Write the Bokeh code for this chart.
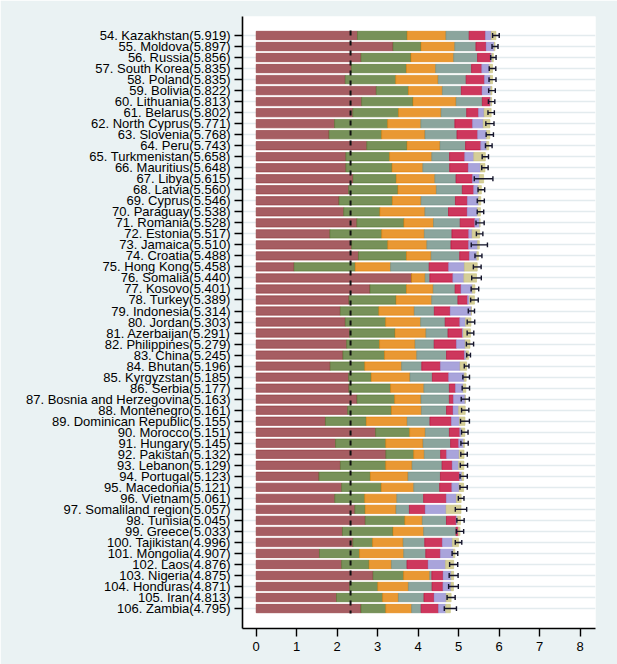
from bokeh.plotting import figure
from bokeh.models import Range1d, FixedTicker, ColumnDataSource
from bokeh.embed import file_html
from bokeh.resources import INLINE

ranks = list(range(54, 107))
countries = ["Kazakhstan", "Moldova", "Russia", "South Korea", "Poland", "Bolivia", "Lithuania",
             "Belarus", "North Cyprus", "Slovenia", "Peru", "Turkmenistan", "Mauritius", "Libya",
             "Latvia", "Cyprus", "Paraguay", "Romania", "Estonia", "Jamaica", "Croatia", "Hong Kong",
             "Somalia", "Kosovo", "Turkey", "Indonesia", "Jordan", "Azerbaijan", "Philippines", "China",
             "Bhutan", "Kyrgyzstan", "Serbia", "Bosnia and Herzegovina", "Montenegro",
             "Dominican Republic", "Morocco", "Hungary", "Pakistan", "Lebanon", "Portugal", "Macedonia",
             "Vietnam", "Somaliland region", "Tunisia", "Greece", "Tajikistan", "Mongolia", "Laos",
             "Nigeria", "Honduras", "Iran", "Zambia"]
scores = [5.919, 5.897, 5.856, 5.835, 5.835, 5.822, 5.813, 5.802, 5.771, 5.768, 5.743, 5.658, 5.648,
          5.615, 5.560, 5.546, 5.538, 5.528, 5.517, 5.510, 5.488, 5.458, 5.440, 5.401, 5.389, 5.314,
          5.303, 5.291, 5.279, 5.245, 5.196, 5.185, 5.177, 5.163, 5.161, 5.155, 5.151, 5.145, 5.132,
          5.129, 5.123, 5.121, 5.061, 5.057, 5.045, 5.033, 4.996, 4.907, 4.876, 4.875, 4.871, 4.813,
          4.795]

dystopia_residual = [2.501, 3.380, 2.591, 2.351, 2.200, 2.966, 2.604, 2.385, 1.936, 1.800, 2.731, 2.214,
                     2.214, 2.393, 2.282, 2.045, 2.161, 2.486, 1.820, 2.357, 2.526, 0.937, 3.837, 2.810,
                     2.291, 2.078, 2.201, 2.307, 2.234, 2.142, 1.829, 2.283, 2.290, 2.490, 2.260, 1.710,
                     2.949, 1.960, 3.202, 2.080, 1.550, 2.110, 1.941, 2.437, 2.694, 2.130, 2.387, 1.563,
                     2.110, 2.888, 2.309, 1.983, 2.588]
gdp = [1.229, 0.692, 1.232, 1.359, 1.246, 0.794, 1.269, 1.131, 1.311, 1.298, 0.996, 1.080, 1.144, 1.067,
       1.218, 1.319, 0.894, 1.162, 1.280, 0.893, 1.186, 1.511, 0.000, 0.901, 1.165, 0.951, 0.997, 1.124,
       0.812, 1.028, 0.853, 0.560, 1.030, 0.930, 1.080, 1.010, 0.841, 1.240, 0.688, 1.120, 1.270, 0.980,
       0.740, 0.256, 0.977, 1.249, 0.488, 0.989, 0.680, 0.752, 0.694, 1.140, 0.612]
social_support = [0.955, 0.831, 1.053, 0.722, 1.047, 0.838, 1.064, 1.050, 0.818, 1.070, 0.813, 1.041,
                  0.757, 0.951, 0.950, 0.707, 1.111, 0.730, 1.052, 0.964, 0.608, 0.870, 0.336, 0.661,
                  0.877, 0.876, 0.862, 0.760, 0.879, 0.794, 0.908, 0.954, 0.820, 0.650, 0.740, 1.010,
                  0.386, 0.920, 0.261, 0.650, 0.930, 0.800, 0.791, 0.759, 0.432, 0.755, 0.756, 1.090,
                  0.550, 0.645, 0.756, 0.390, 0.638]
healthy_life = [0.574, 0.523, 0.590, 0.886, 0.691, 0.469, 0.647, 0.631, 0.841, 0.790, 0.630, 0.440, 0.662,
                0.523, 0.640, 0.849, 0.583, 0.660, 0.681, 0.595, 0.705, 0.953, 0.115, 0.540, 0.647,
                0.494, 0.607, 0.545, 0.470, 0.736, 0.498, 0.554, 0.630, 0.700, 0.620, 0.560, 0.595,
                0.680, 0.403, 0.740, 0.800, 0.640, 0.662, 0.331, 0.596, 0.800, 0.531, 0.545, 0.383,
                0.051, 0.584, 0.630, 0.236]
freedom = [0.401, 0.252, 0.327, 0.252, 0.452, 0.510, 0.189, 0.291, 0.436, 0.510, 0.375, 0.374, 0.461,
           0.407, 0.280, 0.295, 0.462, 0.360, 0.415, 0.436, 0.239, 0.481, 0.568, 0.144, 0.239, 0.392,
           0.360, 0.353, 0.549, 0.440, 0.461, 0.402, 0.150, 0.100, 0.160, 0.530, 0.256, 0.200, 0.146,
           0.250, 0.470, 0.300, 0.560, 0.391, 0.236, 0.058, 0.434, 0.360, 0.522, 0.279, 0.268, 0.250,
           0.427]
generosity = [0.148, 0.200, 0.027, 0.188, 0.144, 0.217, 0.020, 0.139, 0.263, 0.220, 0.145, 0.224, 0.300,
              0.171, 0.109, 0.279, 0.253, 0.120, 0.084, 0.222, 0.184, 0.390, 0.272, 0.280, 0.047, 0.520,
              0.143, 0.023, 0.217, 0.040, 0.485, 0.384, 0.190, 0.290, 0.140, 0.200, 0.040, 0.120, 0.312,
              0.160, 0.060, 0.180, 0.251, 0.515, 0.030, 0.000, 0.250, 0.320, 0.431, 0.200, 0.200, 0.300,
              0.179]
corruption = [0.111, 0.019, 0.036, 0.077, 0.055, 0.028, 0.020, 0.175, 0.166, 0.080, 0.053, 0.285, 0.110,
              0.103, 0.081, 0.052, 0.074, 0.010, 0.185, 0.043, 0.040, 0.316, 0.312, 0.065, 0.123, 0.003,
              0.133, 0.179, 0.118, 0.065, 0.162, 0.048, 0.067, 0.003, 0.161, 0.135, 0.084, 0.025, 0.120,
              0.129, 0.043, 0.111, 0.116, 0.368, 0.080, 0.041, 0.150, 0.040, 0.200, 0.060, 0.060, 0.120,
              0.115]
ci_lower = [5.837, 5.823, 5.789, 5.754, 5.749, 5.740, 5.734, 5.723, 5.670, 5.678, 5.661, 5.580, 5.569,
            5.385, 5.478, 5.459, 5.458, 5.427, 5.437, 5.310, 5.402, 5.362, 5.321, 5.308, 5.295, 5.237,
            5.210, 5.209, 5.190, 5.199, 5.138, 5.103, 5.086, 5.063, 5.071, 5.045, 5.071, 5.055, 5.052,
            5.039, 5.033, 5.031, 4.991, 4.917, 4.955, 4.943, 4.916, 4.837, 4.776, 4.765, 4.751, 4.713,
            4.645]
ci_upper = [6.001, 5.971, 5.923, 5.916, 5.921, 5.904, 5.892, 5.881, 5.872, 5.858, 5.825, 5.736, 5.727,
            5.845, 5.642, 5.633, 5.618, 5.629, 5.597, 5.710, 5.574, 5.554, 5.559, 5.494, 5.483, 5.391,
            5.396, 5.373, 5.368, 5.291, 5.254, 5.267, 5.268, 5.263, 5.251, 5.265, 5.231, 5.235, 5.212,
            5.219, 5.213, 5.211, 5.131, 5.197, 5.135, 5.123, 5.076, 4.977, 4.976, 4.985, 4.991, 4.913,
            4.945]
dystopia = 2.33

tick_labels = [f"{r}. {c}({s:.3f})" for r, c, s in zip(ranks, countries, scores)]
rows = list(range(len(countries)))

stackers = ["dyst", "gdp", "social", "health", "freedom", "gen", "corr"]
fills = ["#a65d62", "#779159", "#e99833", "#8ba59d", "#cd375d", "#a9a4db", "#d5ce98"]
lines = ["#90353b", "#55752f", "#e37e00", "#6e8e84", "#c10534", "#938dd2", "#cac27e"]

source = ColumnDataSource(dict(y=rows, dyst=dystopia_residual, gdp=gdp, social=social_support,
                               health=healthy_life, freedom=freedom, gen=generosity, corr=corruption))

p = figure(width=617, height=664, output_backend="svg", toolbar_location=None,
           x_range=Range1d(-0.338, 8.378), y_range=Range1d(53.81, -1.724),
           min_border_left=242, min_border_right=22, min_border_top=16, min_border_bottom=36)
p.background_fill_color = "white"
p.border_fill_color = "#eaf2f3"
p.outline_line_color = None

p.hbar_stack(stackers, y="y", height=0.76, source=source,
             fill_color=fills, line_color=lines, line_width=0.6)

# dystopia reference line
p.segment(x0=[dystopia], x1=[dystopia], y0=[-0.45], y1=[rows[-1] + 0.45],
          line_color="#111111", line_width=2, line_dash="5 5")

# confidence intervals
cap = 0.22
p.segment(x0=ci_lower, x1=ci_upper, y0=rows, y1=rows, line_color="#14142a", line_width=1.4)
p.segment(x0=ci_lower, x1=ci_lower, y0=[r - cap for r in rows], y1=[r + cap for r in rows],
          line_color="#14142a", line_width=1.4)
p.segment(x0=ci_upper, x1=ci_upper, y0=[r - cap for r in rows], y1=[r + cap for r in rows],
          line_color="#14142a", line_width=1.4)

p.xgrid.visible = False
p.ygrid.grid_line_color = "#e3ebee"
p.ygrid.grid_line_width = 1.5
p.ygrid.level = "underlay"

p.xaxis.ticker = FixedTicker(ticks=list(range(0, 9)))
p.yaxis.ticker = FixedTicker(ticks=rows)
p.yaxis.major_label_overrides = {i: lab for i, lab in enumerate(tick_labels)}

for ax in (p.xaxis[0], p.yaxis[0]):
    ax.axis_line_color = "black"
    ax.axis_line_width = 1.6
    ax.major_tick_line_color = "black"
    ax.major_tick_line_width = 1.4
    ax.major_tick_out = 8
    ax.major_tick_in = 0
    ax.minor_tick_line_color = None
    ax.major_label_text_font = "Liberation Sans"
    ax.major_label_text_font_size = "13px"
    ax.major_label_text_color = "black"
p.yaxis.major_label_standoff = 4
p.xaxis.major_label_standoff = 5

open("out.html", "w").write(file_html(p, INLINE))
